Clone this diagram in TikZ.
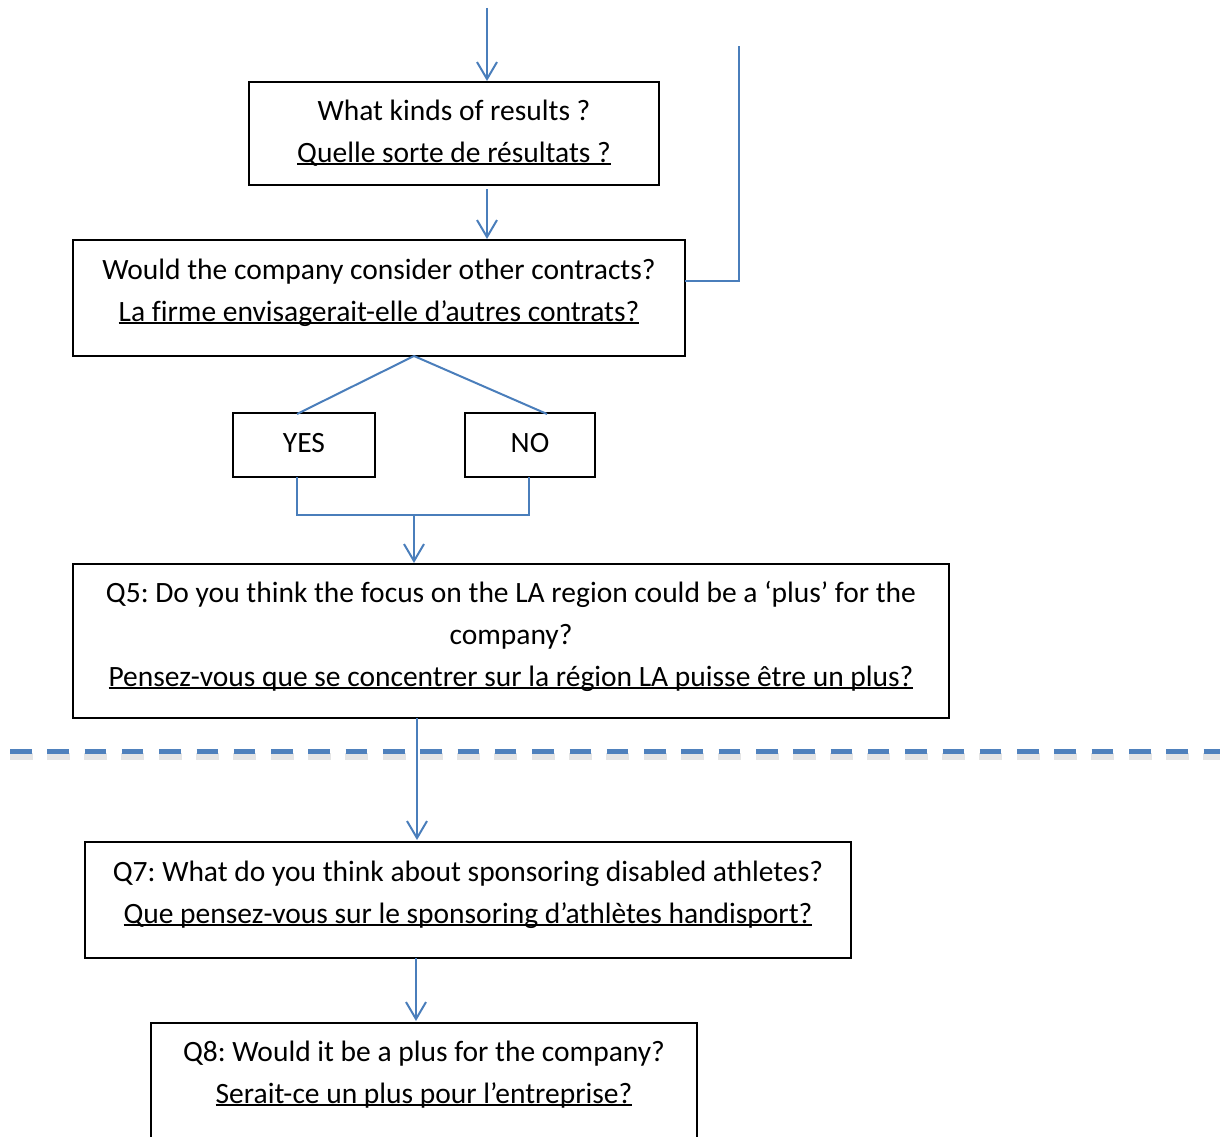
\documentclass[tikz,border=0pt]{standalone}
\usepackage{fontspec}
\setmainfont[Ligatures=NoCommon]{Carlito}
\usetikzlibrary{arrows.meta,calc}
\definecolor{lineblue}{HTML}{4A7EBB}
\definecolor{dashblue}{HTML}{4F81BD}
\frenchspacing
\newcommand\uln[1]{\setbox0=\hbox{#1}\rlap{\rule[-0.11em]{\wd0}{0.07em}}\box0}
\tikzset{
  qbox/.style={draw=black, line width=1.3pt, rectangle, inner sep=0pt, outer sep=0pt},
  qtext/.style={align=center, inner sep=0pt, anchor=base, font=\fontsize{29.5}{42}\selectfont\frenchspacing},
  conn/.style={draw=lineblue, line width=2pt},
  arr/.style={conn, -{Straight Barb[length=17pt,width=20pt]}},
}
\begin{document}
\begin{tikzpicture}[x=1pt,y=-1pt]
\useasboundingbox (0,0) rectangle (1220,1137);
\clip (0,0) rectangle (1220,1137);
% boxes (anchor=base of a multi-line node is the baseline of its last line)
\node[qbox, minimum width=410pt, minimum height=103pt] (b1) at (454,133.5) {};
\node[qtext] (b1t) at (454,162) {What kinds of results ?\\\uln{Quelle sorte de résultats ?}};
\node[qbox, minimum width=612pt, minimum height=116pt] (b2) at (379,298) {};
\node[qtext] (b2t) at (379,321) {Would the company consider other contracts?\\\uln{La firme envisagerait-elle d’autres contrats?}};
\node[qbox, minimum width=142pt, minimum height=64pt] (yes) at (304,445) {};
\node[qtext] (yest) at (304,452.5) {YES};
\node[qbox, minimum width=130pt, minimum height=64pt] (no) at (530,445) {};
\node[qtext] (not) at (530,452.5) {NO};
\node[qbox, minimum width=876pt, minimum height=154pt] (q5) at (511,641) {};
\node[qtext] (q5t) at (511,686) {Q5: Do you think the focus on the LA region could be a ‘plus’ for the\\company?\\\uln{Pensez-vous que se concentrer sur la région LA puisse être un plus?}};
\node[qbox, minimum width=766pt, minimum height=116pt] (q7) at (468,900) {};
\node[qtext] (q7t) at (468,923) {Q7: What do you think about sponsoring disabled athletes?\\\uln{Que pensez-vous sur le sponsoring d’athlètes handisport?}};
\node[qbox, minimum width=546pt, minimum height=140pt] (q8) at (424,1093) {};
\node[qtext] (q8t) at (424,1103) {Q8: Would it be a plus for the company?\\\uln{Serait-ce un plus pour l’entreprise?}};
% free ends and junctions
\coordinate (top) at (487,8);
\coordinate (rtop) at (739,46);
\coordinate (split) at (414,356);
\coordinate (join) at (414,515);
\coordinate (yb) at (297,477);
\coordinate (nb) at (529,477);
% connectors
\draw[arr] (top) -- ([yshift=1pt]top |- b1.north);
\draw[arr] ([yshift=-4pt]top |- b1.south) -- ([yshift=1pt]top |- b2.north);
\draw[conn] ([yshift=17pt]b2.east) -| (rtop);
\draw[conn] (split) -- ([xshift=-7pt,yshift=-1pt]yes.north);
\draw[conn] (split) -- ([xshift=17pt,yshift=-1pt]no.north);
\draw[conn] (yb) |- (join) -| (nb);
\draw[arr] (join) -- ([yshift=1pt]join |- q5.north);
\coordinate (a5) at (417,718);
\draw[arr] (a5) -- ([yshift=2pt]a5 |- q7.north);
\coordinate (a7) at (416,958);
\draw[arr] (a7) -- ([yshift=2pt]a7 |- q8.north);
% separator
\coordinate (dl) at (10,751.5);
\coordinate (dr) at (1230,751.5);
\draw[black, opacity=0.10, line width=7pt, dash pattern=on 23pt off 14.3pt] ([xshift=-0.5pt,yshift=-5pt]dl) -- ([yshift=-5pt]dr);
\draw[dashblue, line width=5pt, dash pattern=on 21.5pt off 15.8pt] (dl) -- (dr);
\end{tikzpicture}
\end{document}
